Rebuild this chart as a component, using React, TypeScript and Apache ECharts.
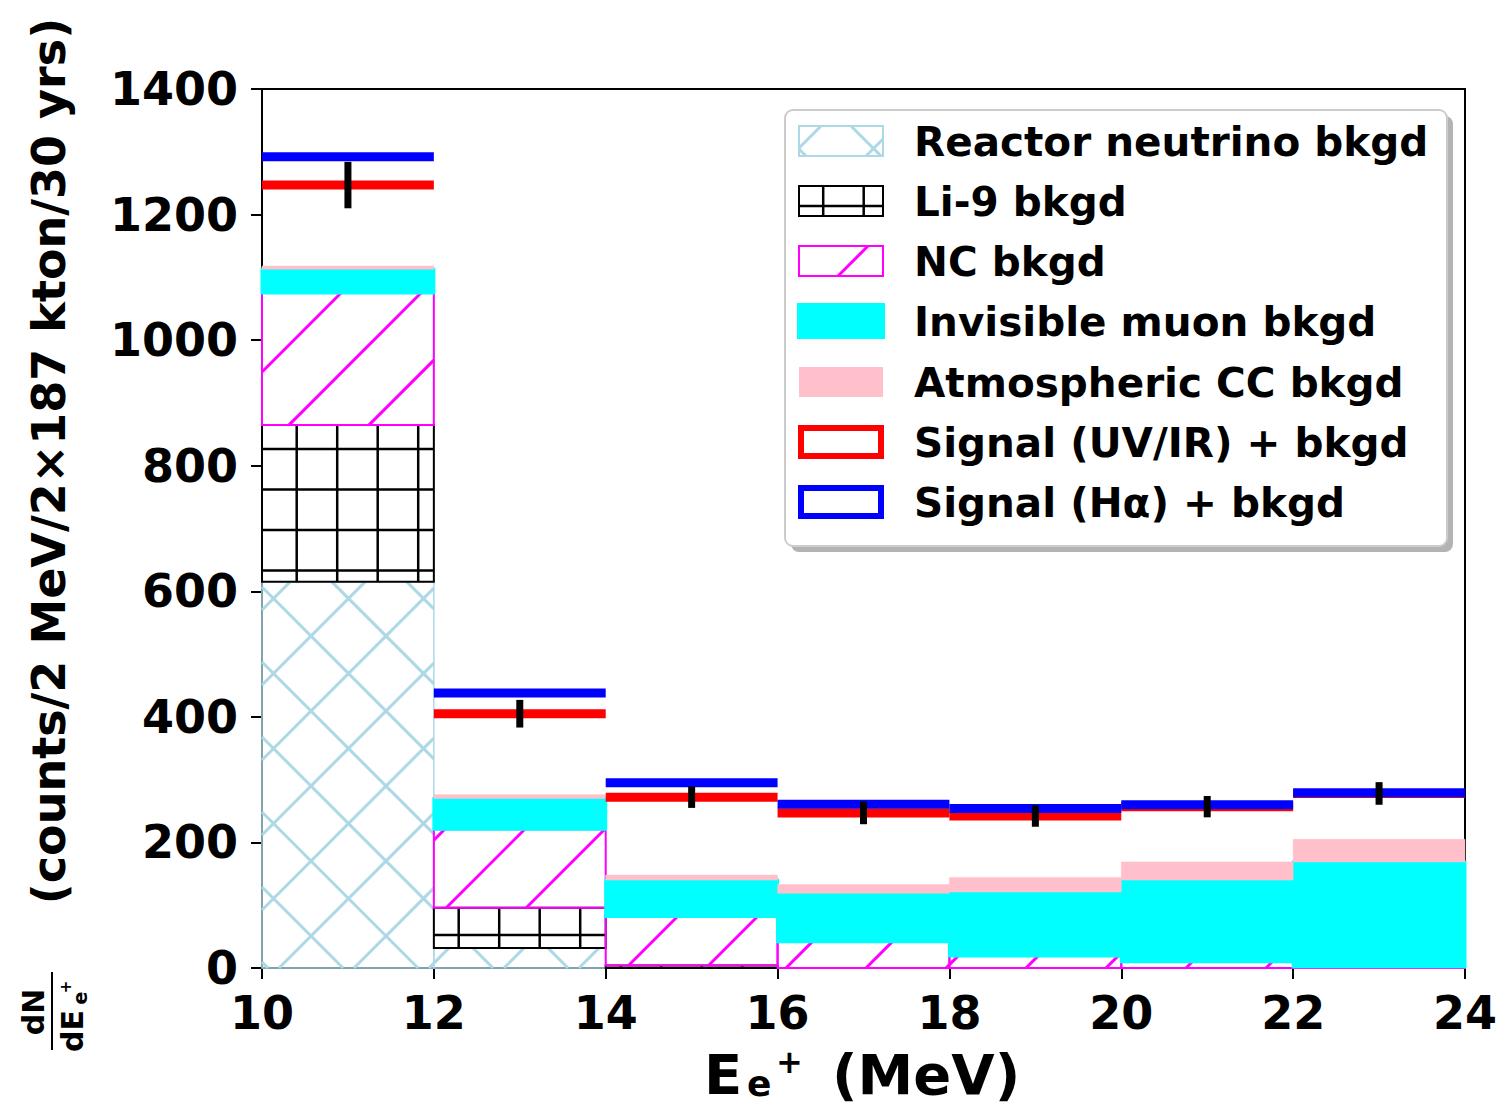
import React, { useEffect, useRef } from "react";
import * as echarts from "echarts";

// ---- data ----
const binEdges = [10, 12, 14, 16, 18, 20, 22, 24];
const reactorBkgd = [615, 32, 0, 0, 0, 0, 0];
const li9Bkgd = [250, 64, 4, 0, 0, 0, 0];
const ncBkgd = [210, 125, 78, 42, 19, 10, 2];
const invisibleMuonBkgd = [38, 49, 58, 77, 102, 130, 167];
const atmosphericCCBkgd = [5, 6, 8, 14, 23, 29, 36];
const signalUVIR = [1247, 405, 272, 247, 242, 257, 278];
const signalHalpha = [1292, 438, 295, 261, 254, 260, 279];
const errorUVIR = [37, 22, 17, 18, 17, 17, 18];

const legendLabels = [
  "Reactor neutrino bkgd",
  "Li-9 bkgd",
  "NC bkgd",
  "Invisible muon bkgd",
  "Atmospheric CC bkgd",
  "Signal (UV/IR) + bkgd",
  "Signal (H\u03b1) + bkgd",
];

const FONT = '"DejaVu Sans", "Liberation Sans", sans-serif';

// ---- hatch helpers (pixel space) ----
type Seg = { x1: number; y1: number; x2: number; y2: number };

function slashHatch(x0: number, y0: number, x1: number, y1: number, s: number, a: number): Seg[] {
  const out: Seg[] = [];
  const cMin = x0 + y0, cMax = x1 + y1;
  let c = a + Math.ceil((cMin - a) / s) * s;
  for (; c <= cMax; c += s) {
    const xa = Math.max(x0, c - y1), xb = Math.min(x1, c - y0);
    if (xb > xa + 0.5) out.push({ x1: xa, y1: c - xa, x2: xb, y2: c - xb });
  }
  return out;
}
function backslashHatch(x0: number, y0: number, x1: number, y1: number, s: number, a: number): Seg[] {
  const out: Seg[] = [];
  const cMin = x0 - y1, cMax = x1 - y0;
  let c = a + Math.ceil((cMin - a) / s) * s;
  for (; c <= cMax; c += s) {
    const xa = Math.max(x0, y0 + c), xb = Math.min(x1, y1 + c);
    if (xb > xa + 0.5) out.push({ x1: xa, y1: xa - c, x2: xb, y2: xb - c });
  }
  return out;
}
function gridHatch(x0: number, y0: number, x1: number, y1: number, s: number, ax: number, ay: number): Seg[] {
  const out: Seg[] = [];
  for (let x = ax + Math.ceil((x0 - ax) / s) * s; x < x1 - 1; x += s) {
    if (x > x0 + 1) out.push({ x1: x, y1: y0, x2: x, y2: y1 });
  }
  for (let y = ay + Math.ceil((y0 - ay) / s) * s; y < y1 - 1; y += s) {
    if (y > y0 + 1) out.push({ x1: x0, y1: y, x2: x1, y2: y });
  }
  return out;
}

type HatchKind = "x" | "/" | "+" | "";
const hatchStyle: Record<string, { color: string; width: number }> = {
  x: { color: "#add8e6", width: 3 },
  "/": { color: "#ff00ff", width: 3 },
  "+": { color: "#000000", width: 2.5 },
};
function hatchFor(kind: HatchKind, x0: number, y0: number, x1: number, y1: number): Seg[] {
  if (kind === "x") return [...slashHatch(x0, y0, x1, y1, 75, 1022), ...backslashHatch(x0, y0, x1, y1, 75, -400)];
  if (kind === "/") return slashHatch(x0, y0, x1, y1, 80, 1674);
  if (kind === "+") return gridHatch(x0, y0, x1, y1, 40.5, 296.7, 449);
  return [];
}

function hatchLinesEls(kind: HatchKind, x0: number, y0: number, x1: number, y1: number) {
  if (!kind) return [];
  const st = hatchStyle[kind];
  return hatchFor(kind, x0, y0, x1, y1).map((s) => ({
    type: "line",
    shape: s,
    style: { stroke: st.color, lineWidth: st.width, lineCap: "butt" },
  }));
}

// ---- stacking ----
const layers = [reactorBkgd, li9Bkgd, ncBkgd, invisibleMuonBkgd, atmosphericCCBkgd];
const bases: number[][] = [];
{
  let acc = binEdges.slice(0, -1).map(() => 0);
  for (const l of layers) {
    bases.push(acc.slice());
    acc = acc.map((v, i) => v + l[i]);
  }
}

function layerSeries(
  name: string,
  values: number[],
  base: number[],
  kind: HatchKind,
  fill: string,
  stroke: string,
  strokeWidth: number
) {
  return {
    type: "custom",
    name,
    z: 2,
    data: values.map((v, i) => [binEdges[i], binEdges[i + 1], base[i], base[i] + v]),
    encode: { x: [0, 1], y: [2, 3] },
    renderItem: (_p: any, api: any) => {
      const h = api.value(3) - api.value(2);
      if (h <= 0) return { type: "group", children: [] };
      const tl = api.coord([api.value(0), api.value(3)]);
      const br = api.coord([api.value(1), api.value(2)]);
      const x0 = tl[0], y0 = tl[1], x1 = br[0], y1 = br[1];
      return {
        type: "group",
        children: [
          ...(fill !== "none"
            ? [{ type: "rect", shape: { x: x0, y: y0, width: x1 - x0, height: y1 - y0 }, style: { fill, stroke: null } }]
            : []),
          ...hatchLinesEls(kind, x0, y0, x1, y1),
          {
            type: "rect",
            shape: { x: x0, y: y0, width: x1 - x0, height: y1 - y0 },
            style: { fill: "none", stroke, lineWidth: strokeWidth },
          },
        ],
      };
    },
  };
}

function stepSeries(name: string, values: number[], color: string) {
  return {
    type: "custom",
    name,
    z: 3,
    data: values.map((v, i) => [binEdges[i], binEdges[i + 1], v]),
    encode: { x: [0, 1], y: 2 },
    renderItem: (_p: any, api: any) => {
      const a = api.coord([api.value(0), api.value(2)]);
      const b = api.coord([api.value(1), api.value(2)]);
      return {
        type: "line",
        shape: { x1: a[0], y1: a[1], x2: b[0], y2: b[1] },
        style: { stroke: color, lineWidth: 9, lineCap: "butt" },
      };
    },
  };
}

function errorSeries(values: number[], errs: number[]) {
  return {
    type: "custom",
    name: "err",
    z: 4,
    data: values.map((v, i) => [(binEdges[i] + binEdges[i + 1]) / 2, v - errs[i], v + errs[i]]),
    encode: { x: 0, y: [1, 2] },
    renderItem: (_p: any, api: any) => {
      const a = api.coord([api.value(0), api.value(1)]);
      const b = api.coord([api.value(0), api.value(2)]);
      return {
        type: "line",
        shape: { x1: a[0], y1: a[1], x2: b[0], y2: b[1] },
        style: { stroke: "#000", lineWidth: 7, lineCap: "butt" },
      };
    },
  };
}

function textEl(
  text: string,
  x: number,
  y: number,
  size: number,
  align = "left",
  vAlign = "middle",
  rotation = 0,
  lh?: number
) {
  return {
    type: "text",
    x,
    y,
    rotation,
    z: 110,
    style: {
      text,
      font: `bold ${size}px ${FONT}`,
      lineHeight: lh ?? Math.round(size * 1.05),
      fill: "#000",
      align,
      verticalAlign: vAlign,
      textAlign: align,
      textVerticalAlign: vAlign,
    },
  };
}

function buildLegend() {
  const els: any[] = [];
  const rows = [141, 201, 261, 321, 382, 442, 502];
  els.push({ type: "rect", z: 100, shape: { x: 791, y: 116, width: 662, height: 436, r: 8 }, style: { fill: "#b3b3b3" } });
  els.push({ type: "rect", z: 101, shape: { x: 785, y: 110, width: 662, height: 436, r: 8 }, style: { fill: "#ffffff", stroke: "#cccccc", lineWidth: 2 } });
  const hx0 = 799, hx1 = 883;
  rows.forEach((c, i) => {
    const y0 = c - 15, y1 = c + 15;
    const g: any[] = [];
    if (i === 0 || i === 1 || i === 2) {
      const kind: HatchKind = i === 0 ? "x" : i === 1 ? "+" : "/";
      const stroke = i === 0 ? "#add8e6" : i === 1 ? "#000000" : "#ff00ff";
      g.push(...hatchLinesEls(kind, hx0, y0, hx1, y1));
      g.push({ type: "rect", shape: { x: hx0, y: y0, width: hx1 - hx0, height: y1 - y0 }, style: { fill: "none", stroke, lineWidth: 2 } });
    } else if (i === 3) {
      g.push({ type: "rect", shape: { x: hx0 - 1, y: y0 - 2, width: hx1 - hx0 + 2, height: y1 - y0 + 4 }, style: { fill: "#00ffff", stroke: "#00ffff", lineWidth: 2 } });
    } else if (i === 4) {
      g.push({ type: "rect", shape: { x: hx0, y: y0, width: hx1 - hx0, height: y1 - y0 }, style: { fill: "#ffc0cb" } });
    } else {
      const col = i === 5 ? "#ff0000" : "#0000ff";
      g.push({ type: "rect", shape: { x: hx0 + 2, y: y0 + 1, width: hx1 - hx0 - 4, height: y1 - y0 - 2 }, style: { fill: "none", stroke: col, lineWidth: 6 } });
    }
    els.push({ type: "group", z: 105, children: g.map((e) => ({ ...e, z: 105 })) });
    els.push(textEl(legendLabels[i], 914, c + 1, 40.5));
  });
  return els;
}

function buildAxisTitles() {
  const els: any[] = [];
  // y title (rotated)
  els.push(textEl("(counts/2 MeV/2\u00d7187 kton/30 yrs)", 49, 461, 46, "center", "middle", Math.PI / 2));
  // fraction dN / dE_{e+}
  els.push(textEl("dN", 33, 1012, 30, "center", "middle", Math.PI / 2));
  els.push({ type: "line", z: 110, shape: { x1: 52, y1: 972, x2: 52, y2: 1050 }, style: { stroke: "#000", lineWidth: 2 } });
  els.push(textEl("dE", 72, 1031, 30, "center", "middle", Math.PI / 2));
  els.push(textEl("e", 80, 998, 19, "center", "middle", Math.PI / 2));
  els.push(textEl("+", 66, 987, 15, "center", "middle", Math.PI / 2));
  // x title
  els.push(textEl("E", 704, 1074, 56, "left", "middle", 0, 56));
  els.push(textEl("e", 747, 1083, 36, "left", "middle", 0, 30));
  els.push(textEl("+", 776, 1062, 32, "left", "middle", 0, 32));
  els.push(textEl("(MeV)", 832, 1074, 56, "left", "middle", 0, 56));
  return els;
}

export default function App() {
  const ref = useRef<HTMLDivElement>(null);
  useEffect(() => {
    if (!ref.current) return;
    const chart = echarts.init(ref.current, null, { renderer: "svg" });
    const axisCommon = {
      axisLine: { show: true, onZero: false, lineStyle: { color: "#000", width: 2 } },
      axisTick: { show: true, inside: false, length: 11, lineStyle: { color: "#000", width: 2 } },
      splitLine: { show: false },
      axisLabel: {
        color: "#000",
        fontFamily: FONT,
        fontWeight: "bold",
        fontSize: 46,
        formatter: (v: number) => String(v),
      },
    };
    chart.setOption({
      animation: false,
      backgroundColor: "#ffffff",
      grid: {
        show: true,
        left: 262,
        top: 89,
        right: 1502 - 1465,
        bottom: 1106 - 968,
        borderColor: "#000",
        borderWidth: 2,
        backgroundColor: "transparent",
      },
      xAxis: {
        type: "value",
        min: 10,
        max: 24,
        interval: 2,
        ...axisCommon,
        axisLabel: { ...axisCommon.axisLabel, margin: 22 },
      },
      yAxis: {
        type: "value",
        min: 0,
        max: 1400,
        interval: 200,
        ...axisCommon,
        axisLabel: { ...axisCommon.axisLabel, margin: 24 },
      },
      series: [
        layerSeries("Reactor neutrino bkgd", reactorBkgd, bases[0], "x", "none", "#add8e6", 1.5),
        layerSeries("Li-9 bkgd", li9Bkgd, bases[1], "+", "none", "#000000", 2),
        layerSeries("NC bkgd", ncBkgd, bases[2], "/", "none", "#ff00ff", 2),
        layerSeries("Invisible muon bkgd", invisibleMuonBkgd, bases[3], "", "#00ffff", "#00ffff", 3),
        layerSeries("Atmospheric CC bkgd", atmosphericCCBkgd, bases[4], "", "#ffc0cb", "#ffc0cb", 0.5),
        stepSeries("Signal (UV/IR) + bkgd", signalUVIR, "#ff0000"),
        stepSeries("Signal (H\u03b1) + bkgd", signalHalpha, "#0000ff"),
        errorSeries(signalUVIR, errorUVIR),
      ],
      graphic: [...buildLegend(), ...buildAxisTitles()],
    });
    return () => chart.dispose();
  }, []);
  return (
    <div
      ref={ref}
      style={{ position: "absolute", left: 0, top: 0, width: 1502, height: 1106, background: "#fff" }}
    />
  );
}
